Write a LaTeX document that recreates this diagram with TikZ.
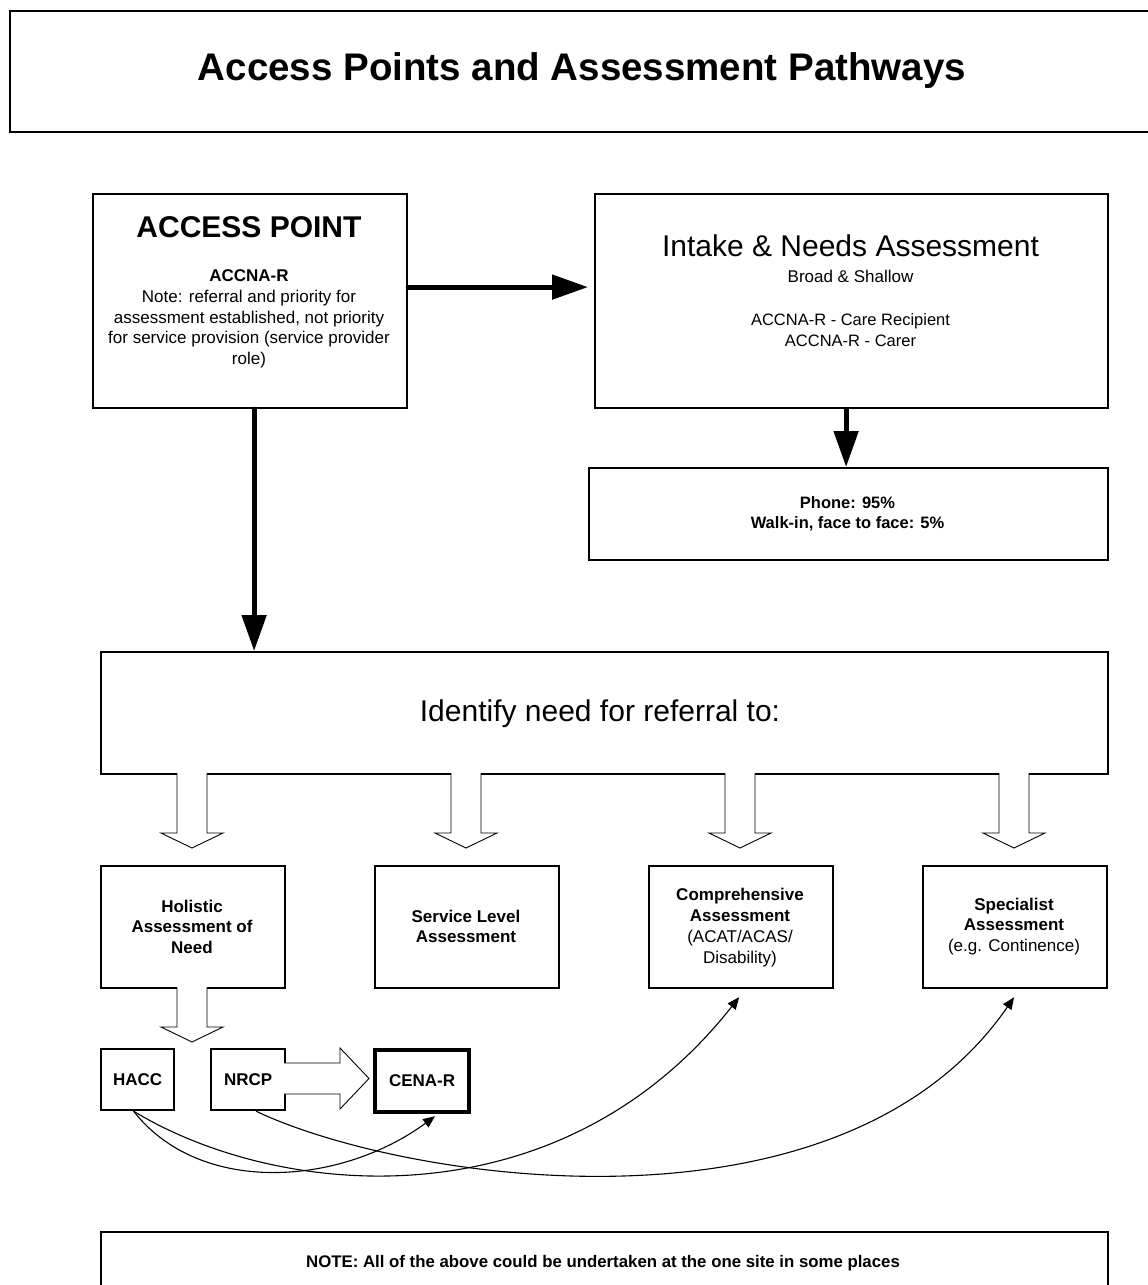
\documentclass[tikz,border=0pt]{standalone}
\usepackage{fontspec}
\setmainfont{Liberation Sans}
\usetikzlibrary{arrows.meta}
\newcommand\fsz[2]{\fontsize{#1}{#2}\selectfont}
\newcommand\hollowdown[3]{% x, y top, y tip
  \draw[hollowarrow] (#1-15,#2) -- (#1-15,#3-15) -- (#1-31,#3-15) -- (#1,#3)
    -- (#1+31,#3-15) -- (#1+15,#3-15) -- (#1+15,#2);}
\tikzset{
  box/.style={draw, line width=2.2pt, inner sep=0pt, anchor=north west},
  txt/.style={align=center, inner sep=0pt},
  bigarrow/.style={line width=5pt, line cap=round, -{Triangle[length=36pt,width=24pt]}},
  curvearrow/.style={line width=1.1pt, -{Triangle[length=12pt,width=10pt]}},
  hollowarrow/.style={draw, line width=0.9pt, fill=white, line join=miter},
}
\begin{document}
\begin{tikzpicture}[x=1pt,y=-1pt]
\useasboundingbox (0,0) rectangle (1148,1285);
\clip (0,0) rectangle (1148,1285);
\fill[white] (0,0) rectangle (1148,1285);

% title
\node[box, minimum width=1170, minimum height=121] (titlebox) at (9,10) {};
\node[txt, font=\bfseries\fsz{38.5}{46}] (title) at (582,71) {Access Points and Assessment Pathways};

% access point
\node[box, minimum width=314, minimum height=214] (ap) at (92,193) {};
\node[txt, font=\bfseries\fsz{30}{36}] (aptitle) at (249,227) {ACCESS POINT};
\node[txt, font=\fsz{17}{20.7}] (aptext) at (249,319) {\textbf{ACCNA-R}\\Note: referral and priority for\\assessment established, not priority\\for service provision (service provider\\role)};

% intake
\node[box, minimum width=513, minimum height=214] (intake) at (594,193) {};
\node[txt, font=\fsz{30}{36}] (intaketitle) at (850.5,246) {Intake \& Needs Assessment};
\node[txt, font=\fsz{17}{20}] (broad) at (850.5,276) {Broad \& Shallow};
\node[txt, font=\fsz{16.5}{21}] (accna) at (850.5,330) {ACCNA-R - Care Recipient\\ACCNA-R - Carer};

% phone
\node[box, minimum width=519, minimum height=92] (phone) at (588,467) {};
\node[txt, font=\bfseries\fsz{16.5}{19.5}] (phonetext) at (847.5,514) {Phone: 95\%\\Walk-in, face to face: 5\%};

% identify
\node[box, minimum width=1007, minimum height=122] (ident) at (100,651) {};
\node[txt, font=\fsz{30}{36}] (identtext) at (600,714) {Identify need for referral to:};

% assessment boxes
\node[box, minimum width=184, minimum height=122] (hol) at (100,865) {};
\node[box, minimum width=184, minimum height=122] (svc) at (374,865) {};
\node[box, minimum width=184, minimum height=122] (comp) at (648,865) {};
\node[box, minimum width=184, minimum height=122] (spec) at (922,865) {};
\node[txt, font=\bfseries\fsz{17}{20.5}] (holtext) at (192,926.5) {Holistic\\Assessment of\\Need};
\node[txt, font=\bfseries\fsz{17}{20.5}] (svctext) at (466,926.5) {Service Level\\Assessment};
\node[txt, font=\fsz{17}{21}] (comptext) at (740,927.5) {\textbf{Comprehensive}\\\textbf{Assessment}\\(ACAT/ACAS/\\Disability)};
\node[txt, font=\fsz{17}{20.5}] (spectext) at (1014,926.5) {\textbf{Specialist}\\\textbf{Assessment}\\(e.g. Continence)};

% small boxes
\node[box, minimum width=73, minimum height=61, font=\bfseries\fsz{17}{20}] (hacc) at (100,1048) {HACC};
\node[box, minimum width=74, minimum height=61, font=\bfseries\fsz{17}{20}] (nrcp) at (210,1048) {NRCP};
\node[box, line width=4.2pt, minimum width=94, minimum height=62, font=\bfseries\fsz{17}{20}] (cena) at (373,1048) {CENA-R};

% note
\node[box, minimum width=1007, minimum height=120] (note) at (100,1231) {};
\node[txt, font=\bfseries\fsz{16.8}{19}] (notetext) at (603,1263) {NOTE: All of the above could be undertaken at the one site in some places};

% thick arrows
\draw[bigarrow] ([yshift=14pt]ap.east) -- ([yshift=14pt,xshift=-6pt]intake.west);
\draw[bigarrow] ([xshift=4pt]ap.south) -- ([xshift=4pt]ap.south |- ident.north);
\draw[bigarrow, line cap=butt] ([xshift=-5.5pt]intake.south) -- ([xshift=-5.5pt]intake.south |- phone.north);

% hollow arrows
\hollowdown{192}{773}{848}
\hollowdown{466}{773}{848}
\hollowdown{740}{773}{848}
\hollowdown{1014}{773}{848}
\hollowdown{192}{987}{1042}
\draw[hollowarrow] (284,1063) -- (340,1063) -- (340,1048) -- (369,1078.5)
  -- (340,1109) -- (340,1094) -- (284,1094);

% curved connectors
\draw[curvearrow] ([xshift=-4pt]hacc.south) .. controls (200,1196) and (340,1186) .. ([xshift=13pt,yshift=-2pt]cena.south);
\draw[curvearrow] ([xshift=-4pt]hacc.south) .. controls (280,1200) and (560,1225) .. ([xshift=-2pt,yshift=-8pt]comp.south);
\draw[curvearrow] ([xshift=8pt]nrcp.south) .. controls (400,1180) and (840,1250) .. ([xshift=-1pt,yshift=-8pt]spec.south);
\end{tikzpicture}
\end{document}
